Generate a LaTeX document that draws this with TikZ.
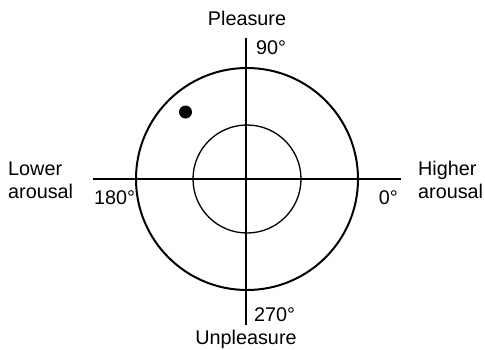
\documentclass[tikz,border=0pt]{standalone}
\usepackage{fontspec}
\setmainfont{Liberation Sans}
\begin{document}
\begin{tikzpicture}[x=1pt,y=-1pt,
  lbl/.style={inner sep=0pt,font=\fontsize{19.8}{23}\selectfont,align=left},
  axis/.style={line width=1.8pt},
  ring/.style={draw,circle,inner sep=0pt}]
\useasboundingbox (0,0) rectangle (485,349);
\coordinate (c) at (247,179);
\node[ring,line width=2pt,minimum size=222pt] (outer) at (c) {};
\node[ring,line width=1.3pt,minimum size=108pt] (inner) at (c) {};
\coordinate (top) at (246,38);
\coordinate (bot) at (246,325);
\coordinate (lft) at (93,179);
\coordinate (rgt) at (401,179);
\draw[axis] (top) -- (bot);
\draw[axis] (lft) -- (rgt);
\node[fill,circle,inner sep=0pt,minimum size=13pt] (dot) at (185.5,112) {};
\node[lbl] (pl) at (247,18) {Pleasure};
\node[lbl,anchor=west] (n90) at (256,48) {90°};
\node[lbl,anchor=west] (lo) at (8,180) {Lower\\arousal};
\node[lbl,anchor=west] (n180) at (94,198) {180°};
\node[lbl,anchor=east] (n0) at (398,198) {0°};
\node[lbl,anchor=west] (hi) at (418,180) {Higher\\arousal};
\node[lbl,anchor=west] (n270) at (254,315) {270°};
\node[lbl] (un) at (246,339) {Unpleasure};
\end{tikzpicture}
\end{document}
